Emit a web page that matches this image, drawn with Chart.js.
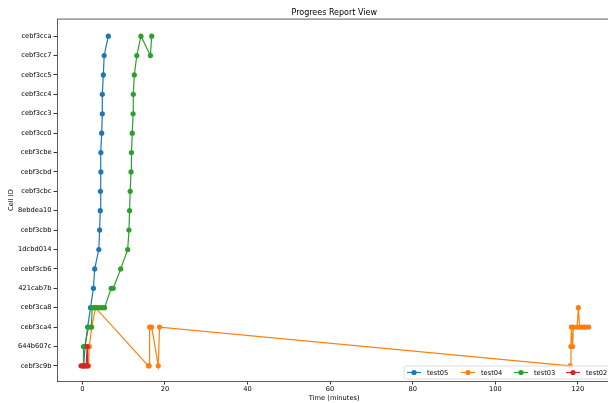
<!DOCTYPE html>
<html>
<head>
<meta charset="utf-8">
<script src="https://cdn.jsdelivr.net/npm/chart.js@4/dist/chart.umd.min.js"></script>
<style>
  body { margin: 0; background: #fff; overflow: hidden; }
  canvas { display: block; }
</style>
</head>
<body>
<!-- the original figure is cropped on the right, so the canvas runs a few px past the window -->
<canvas id="progress" width="614" height="403"></canvas>
<script>
// cell ids, bottom to top
const cellIds = ['cebf3c9b', '644b607c', 'cebf3ca4', 'cebf3ca8', '421cab7b', 'cebf3cb6', '1dcbd014', 'cebf3cbb',
  '8ebdea10', 'cebf3cbc', 'cebf3cbd', 'cebf3cbe', 'cebf3cc0', 'cebf3cc3', 'cebf3cc4', 'cebf3cc5', 'cebf3cc7', 'cebf3cca'];
const xTicks = [0, 20, 40, 60, 80, 100, 120];

const test05Time = [0.3, 0.7, 1.3, 2.0, 2.7, 3.0, 4.0, 4.2, 4.35, 4.4, 4.5, 4.5, 4.7, 4.85, 4.85, 5.1, 5.3, 6.3];
const test05Cell = ['cebf3c9b', '644b607c', 'cebf3ca4', 'cebf3ca8', '421cab7b', 'cebf3cb6', '1dcbd014', 'cebf3cbb',
  '8ebdea10', 'cebf3cbc', 'cebf3cbd', 'cebf3cbe', 'cebf3cc0', 'cebf3cc3', 'cebf3cc4', 'cebf3cc5', 'cebf3cc7', 'cebf3cca'];

const test04Time = [0.9, 1.5, 1.7, 2.3, 3.2, 16.0, 16.2, 16.3, 16.8, 18.4, 18.7, 118.1, 118.3, 118.4, 118.7, 118.9,
  119.8, 120.1, 120.4, 121.0, 121.5, 122.0, 122.6];
const test04Cell = ['cebf3c9b', 'cebf3c9b', '644b607c', 'cebf3ca4', 'cebf3ca8', 'cebf3c9b', 'cebf3c9b', 'cebf3ca4',
  'cebf3ca4', 'cebf3c9b', 'cebf3ca4', 'cebf3c9b', '644b607c', 'cebf3ca4', '644b607c', 'cebf3ca4',
  'cebf3ca4', 'cebf3ca8', 'cebf3ca4', 'cebf3ca4', 'cebf3ca4', 'cebf3ca4', 'cebf3ca4'];

const test03Time = [0.2, 0.3, 0.6, 1.5, 2.2, 2.4, 3.0, 3.6, 4.2, 4.8, 5.4, 7.0, 7.5, 9.3, 11.0, 11.3, 11.45, 11.6,
  11.8, 11.9, 12.1, 12.3, 12.35, 12.6, 13.2, 14.2, 16.5, 16.8];
const test03Cell = ['cebf3c9b', '644b607c', '644b607c', 'cebf3ca4', 'cebf3ca4', 'cebf3ca8', 'cebf3ca8', 'cebf3ca8',
  'cebf3ca8', 'cebf3ca8', 'cebf3ca8', '421cab7b', '421cab7b', 'cebf3cb6', '1dcbd014', 'cebf3cbb', '8ebdea10', 'cebf3cbc',
  'cebf3cbd', 'cebf3cbe', 'cebf3cc0', 'cebf3cc3', 'cebf3cc4', 'cebf3cc5', 'cebf3cc7', 'cebf3cca', 'cebf3cc7', 'cebf3cca'];

const test02Time = [-0.3, 0.1, 0.5, 0.9, 1.2, 1.3];
const test02Cell = ['cebf3c9b', 'cebf3c9b', 'cebf3c9b', 'cebf3c9b', '644b607c', 'cebf3c9b'];

const seriesNames = ['test05', 'test04', 'test03', 'test02'];
const seriesColors = ['#1f77b4', '#ff7f0e', '#2ca02c', '#d62728'];

function toPoints(times, cells) {
  return times.map((t, i) => ({ x: t, y: cellIds.indexOf(cells[i]) }));
}

const allTimes = [test05Time, test04Time, test03Time, test02Time];
const allCells = [test05Cell, test04Cell, test03Cell, test02Cell];

const datasets = seriesNames.map((name, i) => ({
  label: name,
  data: toPoints(allTimes[i], allCells[i]),
  showLine: true,
  borderColor: seriesColors[i],
  backgroundColor: seriesColors[i],
  borderWidth: 1.2,
  pointRadius: 2.6,
  pointBorderWidth: 0,
  pointHoverRadius: 2.6,
  order: seriesNames.length - i
}));

const FONT = 'DejaVu Sans';

// top spine + legend in the lower right
const framePlugin = {
  id: 'frame',
  afterDraw(chart) {
    const ctx = chart.ctx;
    const a = chart.chartArea;
    ctx.save();
    ctx.strokeStyle = '#333';
    ctx.lineWidth = 0.8;
    ctx.beginPath();
    ctx.moveTo(a.left, a.top);
    ctx.lineTo(a.right, a.top);
    ctx.stroke();

    const boxL = 404, boxR = 612, boxT = 366, boxB = 379;
    ctx.fillStyle = 'rgba(255,255,255,0.8)';
    ctx.strokeStyle = '#d5d5d5';
    ctx.lineWidth = 0.8;
    ctx.beginPath();
    ctx.roundRect(boxL, boxT, boxR - boxL, boxB - boxT, 2);
    ctx.fill();
    ctx.stroke();

    const cy = (boxT + boxB) / 2;
    const starts = [407, 461, 514, 566];
    ctx.font = '6.7px ' + FONT;
    ctx.textBaseline = 'middle';
    seriesNames.forEach((name, i) => {
      const x0 = starts[i];
      ctx.strokeStyle = seriesColors[i];
      ctx.lineWidth = 1.2;
      ctx.beginPath();
      ctx.moveTo(x0, cy);
      ctx.lineTo(x0 + 14, cy);
      ctx.stroke();
      ctx.fillStyle = seriesColors[i];
      ctx.beginPath();
      ctx.arc(x0 + 7, cy, 2.6, 0, Math.PI * 2);
      ctx.fill();
      ctx.fillStyle = '#000';
      ctx.fillText(name, x0 + 20, cy + 0.5);
    });
    ctx.restore();
  }
};

new Chart(document.getElementById('progress'), {
  type: 'scatter',
  data: { datasets },
  plugins: [framePlugin],
  options: {
    responsive: false,
    animation: false,
    devicePixelRatio: 1,
    layout: { padding: { right: 0, top: 0, left: 0, bottom: 0 } },
    plugins: {
      legend: { display: false },
      tooltip: { enabled: false },
      title: {
        display: true,
        fullSize: false,
        text: 'Progrees Report View',
        color: '#000',
        font: { family: FONT, size: 8, weight: 'normal' },
        padding: { top: 8, bottom: 1.5 }
      }
    },
    scales: {
      x: {
        type: 'linear',
        min: -6.12,
        max: 128.1,
        afterBuildTicks: scale => { scale.ticks = xTicks.map(v => ({ value: v })); },
        afterFit: scale => { scale.height = 22; },
        grid: { drawOnChartArea: false, drawTicks: true, tickLength: 3.5, color: '#333' },
        border: { display: true, color: '#333', width: 0.8 },
        ticks: { color: '#000', font: { family: FONT, size: 6.7 }, padding: 1, maxRotation: 0 },
        title: { display: true, text: 'Time (minutes)', color: '#000', font: { family: FONT, size: 6.7 }, padding: { top: 0, bottom: 1 } }
      },
      y: {
        type: 'linear',
        min: -0.78,
        max: 17.88,
        afterBuildTicks: scale => { scale.ticks = cellIds.map((c, i) => ({ value: i })); },
        afterFit: scale => { scale.width = 57; },
        grid: { drawOnChartArea: false, drawTicks: true, tickLength: 3.5, color: '#333' },
        border: { display: true, color: '#333', width: 0.8 },
        ticks: {
          color: '#000',
          font: { family: FONT, size: 6.7 },
          padding: 2,
          callback: v => cellIds[v]
        },
        title: { display: true, text: 'Cell ID', color: '#000', font: { family: FONT, size: 6.7 }, padding: { top: 7, bottom: 0 } }
      }
    }
  }
});
</script>
</body>
</html>
